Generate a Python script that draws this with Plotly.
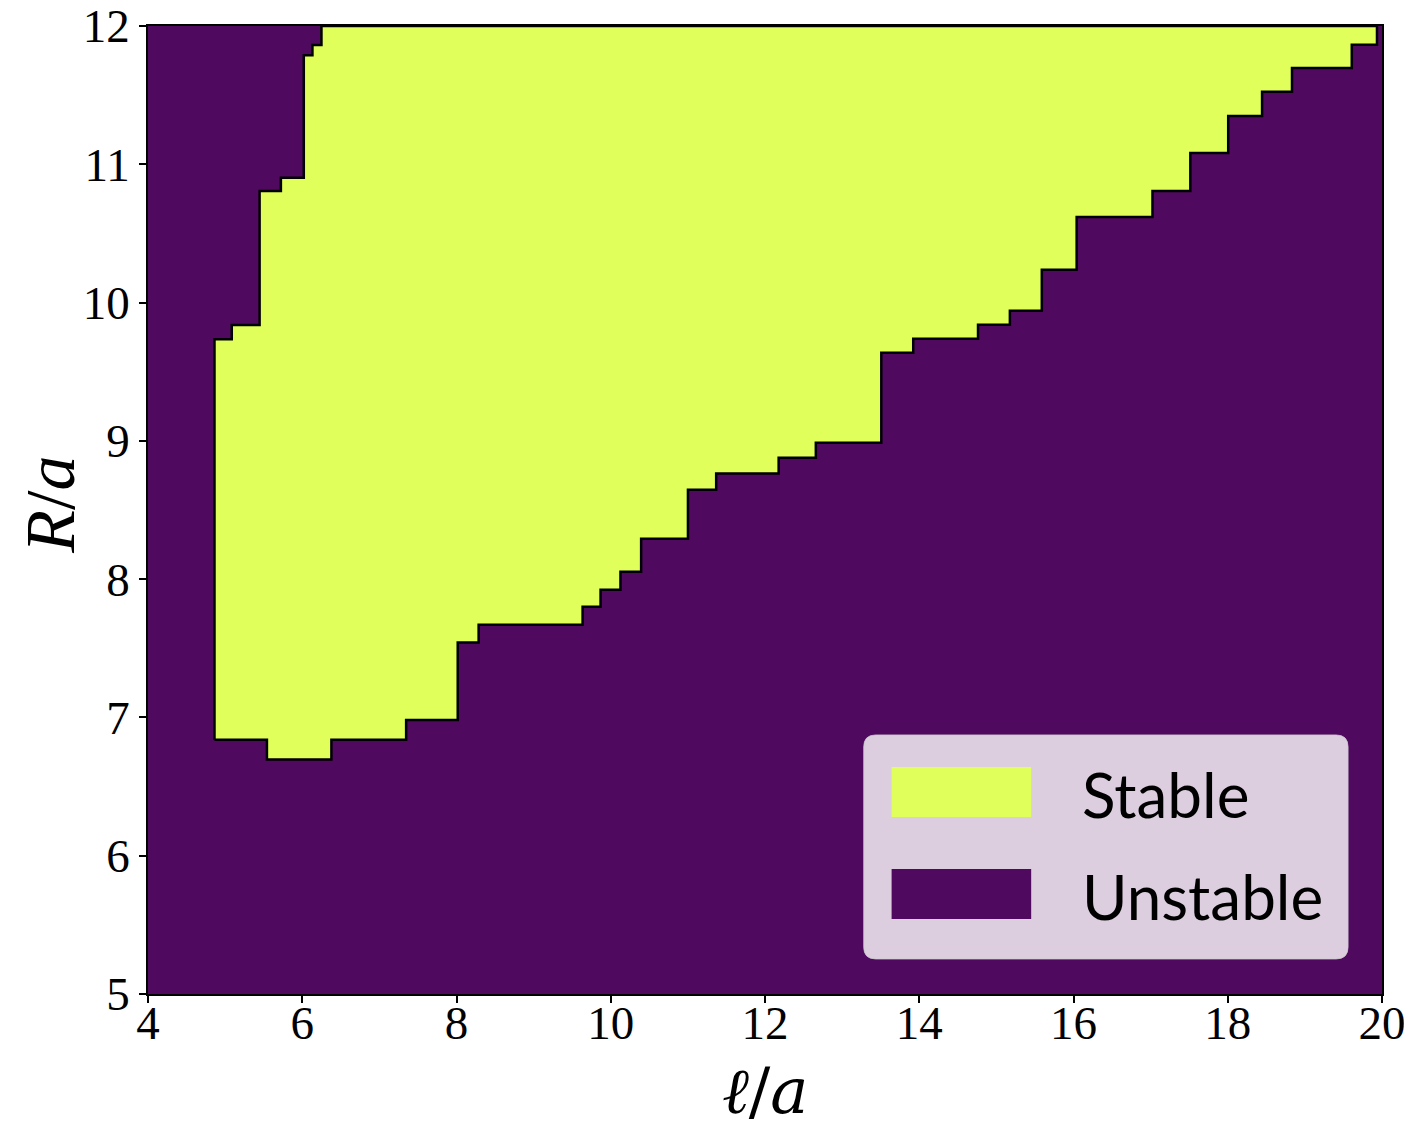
import plotly.graph_objects as go

# left edge of the stable region: x for each band between successive y breaks
left_y_breaks = [6.839, 9.734, 9.838, 10.807, 10.903, 11.788, 11.863, 12.0]
left_x = [4.862, 5.086, 5.447, 5.723, 6.020, 6.132, 6.249]

# lower / right edge of the stable region: y for each band between x breaks
lower_x_breaks = [4.862, 5.542, 6.378, 7.347, 8.016, 8.287, 9.635, 9.868, 10.126,
                  10.394, 11.001, 11.367, 12.177, 12.659, 13.508, 13.922, 14.762,
                  15.175, 15.589, 16.041, 17.024, 17.515, 18.006, 18.445, 18.833,
                  19.608, 19.935]
lower_y = [6.839, 6.695, 6.839, 6.982, 7.541, 7.671, 7.801, 7.924, 8.054, 8.293,
           8.647, 8.764, 8.878, 8.987, 9.638, 9.739, 9.840, 9.941, 10.238, 10.619,
           10.807, 11.082, 11.349, 11.525, 11.696, 11.865]

x_range = [4, 20]
y_range = [5, 12]
x_ticks = [4, 6, 8, 10, 12, 14, 16, 18, 20]
y_ticks = [5, 6, 7, 8, 9, 10, 11, 12]
labels = ["Stable", "Unstable"]

STABLE = "#e0ff5a"
UNSTABLE = "#4f0a5f"

# build the outline of the stable region
xs, ys = [], []
for i in range(len(left_x)):
    xs += [left_x[i], left_x[i]]
    ys += [left_y_breaks[i], left_y_breaks[i + 1]]
xs.append(lower_x_breaks[-1])
ys.append(y_range[1])
for j in reversed(range(len(lower_y))):
    xs += [lower_x_breaks[j + 1], lower_x_breaks[j]]
    ys += [lower_y[j], lower_y[j]]
xs.append(xs[0])
ys.append(ys[0])

fig = go.Figure()
fig.add_trace(go.Scatter(x=xs, y=ys, mode="lines", fill="toself",
                         fillcolor=STABLE, line=dict(color="black", width=2.5),
                         showlegend=False, hoverinfo="skip"))

# legend drawn by hand, matplotlib style (lower right, rounded frame)
def rounded_box(x0, y0, x1, y1, rx, ry):
    return (f"M {x0+rx},{y0} L {x1-rx},{y0} Q {x1},{y0} {x1},{y0+ry} "
            f"L {x1},{y1-ry} Q {x1},{y1} {x1-rx},{y1} L {x0+rx},{y1} "
            f"Q {x0},{y1} {x0},{y1-ry} L {x0},{y0+ry} Q {x0},{y0} {x0+rx},{y0} Z")

fig.add_shape(type="path", xref="paper", yref="paper",
              path=rounded_box(0.580, 0.0362, 0.9725, 0.2676, 0.0097, 0.0124),
              fillcolor="rgba(255,255,255,0.8)", line=dict(color="rgba(204,204,204,0.8)", width=1))
patch_y = [(0.1829, 0.2345), (0.0775, 0.1291)]
for (y0, y1), col, lab in zip(patch_y, [STABLE, UNSTABLE], labels):
    fig.add_shape(type="rect", xref="paper", yref="paper", x0=0.6026, x1=0.7157,
                  y0=y0, y1=y1, fillcolor=col, line=dict(width=0))
    fig.add_annotation(xref="paper", yref="paper", x=0.7555, y=(y0 + y1) / 2 - 0.002,
                       text=lab, showarrow=False, xanchor="left", yanchor="middle",
                       font=dict(family="Lato", size=62, color="black"))

# axis titles
fig.add_annotation(xref="paper", yref="paper", x=0.5, y=-0.1, text="<i>ℓ</i>/<i>a</i>",
                   showarrow=False, xanchor="center", yanchor="middle",
                   font=dict(family="DejaVu Serif", size=64, color="black"))
fig.add_annotation(xref="paper", yref="paper", x=-0.079, y=0.505, text="<i>R</i>/<i>a</i>",
                   showarrow=False, textangle=-90, xanchor="center", yanchor="middle",
                   font=dict(family="Liberation Serif", size=70, color="black"))

axis_common = dict(showgrid=False, zeroline=False, showline=True, mirror=True,
                   linecolor="black", linewidth=1.5, ticks="outside", ticklen=7,
                   tickwidth=1.5, tickcolor="black", automargin=False,
                   ticklabeloverflow="allow",
                   tickfont=dict(family="Liberation Serif", size=47, color="black"))

fig.update_xaxes(range=x_range, tickvals=x_ticks, ticklabelstandoff=-20, **axis_common)
fig.update_yaxes(range=y_range, tickvals=y_ticks, ticklabelstandoff=0, **axis_common)

# page body adds ~7px offset, so the figure is sized a little under the window
fig.update_layout(width=1404, height=1123, plot_bgcolor=UNSTABLE, paper_bgcolor="white",
                  margin=dict(l=140, r=30, t=18, b=137), showlegend=False)

fig.write_html("out.html")
